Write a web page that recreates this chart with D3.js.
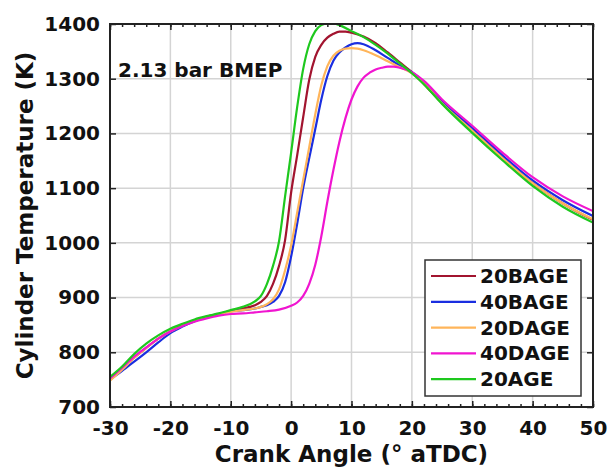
<!DOCTYPE html>
<html>
<head>
<meta charset="utf-8">
<script src="https://cdn.jsdelivr.net/npm/d3@7/dist/d3.min.js"></script>
<style>
  body { margin: 0; background: #fff; }
  text { font-family: "DejaVu Sans", sans-serif; font-weight: bold; fill: #111; }
</style>
</head>
<body>
<div id="chart"></div>
<script>
// data: [crank angle (deg aTDC), temperature (K)]
const xTicks = [-30, -20, -10, 0, 10, 20, 30, 40, 50];
const yTicks = [700, 800, 900, 1000, 1100, 1200, 1300, 1400];
const seriesNames = ["20BAGE", "40BAGE", "20DAGE", "40DAGE", "20AGE"];
const seriesColors = ["#a2142f", "#1a2ee0", "#ffb55a", "#f015d0", "#1ec81e"];

const bage20 = [[-30,750],[-28,770],[-26,790],[-24,808],[-22,825],[-20,838],[-18,849],[-16,858],[-14,865],[-12,870],[-10,876],[-8,880],[-6,886],[-5,892],[-4,903],[-3,925],[-2,958],[-1,1005],[0,1092],[1,1160],[2,1230],[3,1298],[4,1340],[5,1362],[6,1375],[7,1382],[8,1386],[9,1386],[10,1384],[12,1377],[14,1365],[16,1348],[18,1330],[20,1312],[22,1290],[25,1255],[30,1205],[35,1155],[40,1109],[45,1072],[50,1042]];
const bage40 = [[-30,750],[-28,766],[-26,783],[-24,800],[-22,818],[-20,835],[-18,847],[-16,857],[-14,864],[-12,870],[-10,875],[-8,877],[-6,880],[-5,883],[-4,886],[-3,892],[-2,903],[-1,928],[0,975],[1,1035],[2,1100],[3,1155],[4,1208],[5,1262],[6,1305],[7,1333],[8,1348],[9,1357],[10,1363],[11,1365],[12,1363],[14,1352],[16,1338],[18,1324],[20,1312],[22,1294],[25,1258],[30,1210],[35,1160],[40,1114],[45,1078],[50,1049]];
const dage20 = [[-30,748],[-28,768],[-26,790],[-24,808],[-22,825],[-20,838],[-18,849],[-16,858],[-14,865],[-12,870],[-10,874],[-8,877],[-6,880],[-5,883],[-4,888],[-3,897],[-2,915],[-1,950],[0,995],[1,1055],[2,1115],[3,1175],[4,1235],[5,1288],[6,1323],[7,1342],[8,1351],[9,1355],[10,1356],[11,1355],[12,1352],[14,1343],[16,1332],[18,1321],[20,1310],[22,1292],[25,1255],[30,1205],[35,1155],[40,1109],[45,1072],[50,1043]];
const dage40 = [[-30,752],[-28,772],[-26,792],[-24,809],[-22,825],[-20,838],[-18,848],[-16,856],[-14,862],[-12,867],[-10,870],[-8,871],[-6,873],[-4,875],[-2,878],[0,885],[1,891],[2,903],[3,925],[4,960],[5,1012],[6,1075],[7,1133],[8,1185],[9,1228],[10,1262],[11,1286],[12,1302],[13,1311],[14,1317],[15,1320],[16,1322],[17,1322],[18,1320],[20,1312],[22,1296],[25,1262],[30,1214],[35,1165],[40,1120],[45,1085],[50,1058]];
const age20 = [[-30,755],[-28,774],[-26,797],[-24,816],[-22,831],[-20,843],[-18,852],[-16,860],[-14,866],[-12,871],[-10,877],[-8,883],[-6,893],[-5,903],[-4,925],[-3,958],[-2,1003],[-1,1085],[0,1165],[1,1248],[2,1318],[3,1363],[4,1387],[5,1398],[6,1401],[7,1401],[8,1398],[10,1387],[12,1376],[14,1362],[16,1346],[18,1328],[20,1310],[22,1290],[25,1254],[30,1201],[35,1151],[40,1104],[45,1066],[50,1037]];

const seriesData = [bage20, bage40, dage20, dage40, age20];

const W = 608, H = 468;
const mLeft = 110, mRight = 593, mTop = 24, mBottom = 407;

const svg = d3.select("#chart").append("svg")
    .attr("width", W).attr("height", H);

const x = d3.scaleLinear().domain([-30, 50]).range([mLeft, mRight]);
const y = d3.scaleLinear().domain([700, 1400]).range([mBottom, mTop]);

// grid
const grid = svg.append("g").attr("stroke", "#d4d4d4").attr("stroke-width", 1.5);
grid.selectAll("line.gx").data(xTicks.slice(1, -1)).join("line").attr("class", "gx")
    .attr("x1", d => x(d)).attr("x2", d => x(d)).attr("y1", mTop).attr("y2", mBottom);
grid.selectAll("line.gy").data(yTicks.slice(1, -1)).join("line").attr("class", "gy")
    .attr("y1", d => y(d)).attr("y2", d => y(d)).attr("x1", mLeft).attr("x2", mRight);

// curves
svg.append("clipPath").attr("id", "clip").append("rect")
    .attr("x", mLeft).attr("y", mTop).attr("width", mRight - mLeft).attr("height", mBottom - mTop);

const line = d3.line()
    .x(d => x(d[0]))
    .y(d => y(d[1]))
    .curve(d3.curveMonotoneX);

svg.append("g").attr("clip-path", "url(#clip)")
    .selectAll("path").data(seriesData).join("path")
    .attr("fill", "none")
    .attr("stroke", (d, i) => seriesColors[i])
    .attr("stroke-width", 2.2)
    .attr("d", line);

// axes: ticks point inward
const minor = d3.range(-30, 51, 2);
const plain = d => String(d);
const styleAxis = g => {
    g.select(".domain").remove();
    g.selectAll(".tick line").attr("stroke", "#222").attr("stroke-width", 1.5);
};

svg.append("g").attr("transform", `translate(0,${mBottom})`)
    .call(d3.axisBottom(x).tickValues(minor).tickFormat("").tickSize(-3)).call(styleAxis);
svg.append("g").attr("transform", `translate(0,${mTop})`)
    .call(d3.axisTop(x).tickValues(minor).tickFormat("").tickSize(-3)).call(styleAxis);
svg.append("g").attr("transform", `translate(0,${mBottom})`)
    .call(d3.axisBottom(x).tickValues(xTicks).tickFormat(plain).tickSize(-6).tickPadding(14)).call(styleAxis)
    .selectAll("text").style("font-size", "20px").attr("fill", "#111");
svg.append("g").attr("transform", `translate(0,${mTop})`)
    .call(d3.axisTop(x).tickValues(xTicks).tickFormat("").tickSize(-6)).call(styleAxis);
svg.append("g").attr("transform", `translate(${mLeft},0)`)
    .call(d3.axisLeft(y).tickValues(yTicks).tickFormat(plain).tickSize(-6).tickPadding(10)).call(styleAxis)
    .selectAll("text").style("font-size", "20px").attr("fill", "#111");
svg.append("g").attr("transform", `translate(${mRight},0)`)
    .call(d3.axisRight(y).tickValues(yTicks).tickFormat("").tickSize(-6)).call(styleAxis);

svg.append("rect")
    .attr("x", mLeft).attr("y", mTop).attr("width", mRight - mLeft).attr("height", mBottom - mTop)
    .attr("fill", "none").attr("stroke", "#222").attr("stroke-width", 2);

// axis labels
svg.append("text")
    .attr("x", (mLeft + mRight) / 2).attr("y", 462)
    .attr("text-anchor", "middle").style("font-size", "23px")
    .text("Crank Angle (° aTDC)");
svg.append("text")
    .attr("transform", `translate(33,${(mTop + mBottom) / 2}) rotate(-90)`)
    .attr("text-anchor", "middle").style("font-size", "23px")
    .text("Cylinder Temperature (K)");

svg.append("text")
    .attr("x", 118).attr("y", 77).style("font-size", "20px")
    .text("2.13 bar BMEP");

// legend
const legend = svg.append("g");
legend.append("rect")
    .attr("x", 425).attr("y", 260).attr("width", 156).attr("height", 136)
    .attr("fill", "#fff").attr("stroke", "#333").attr("stroke-width", 1.5);
const rows = legend.selectAll("g.row").data(seriesNames).join("g")
    .attr("transform", (d, i) => `translate(0,${276 + i * 25.8})`);
rows.append("line")
    .attr("x1", 431).attr("x2", 476).attr("y1", 0).attr("y2", 0)
    .attr("stroke", (d, i) => seriesColors[i]).attr("stroke-width", 2.2);
rows.append("text")
    .attr("x", 480).attr("y", 7).style("font-size", "20px")
    .text(d => d);
</script>
</body>
</html>
